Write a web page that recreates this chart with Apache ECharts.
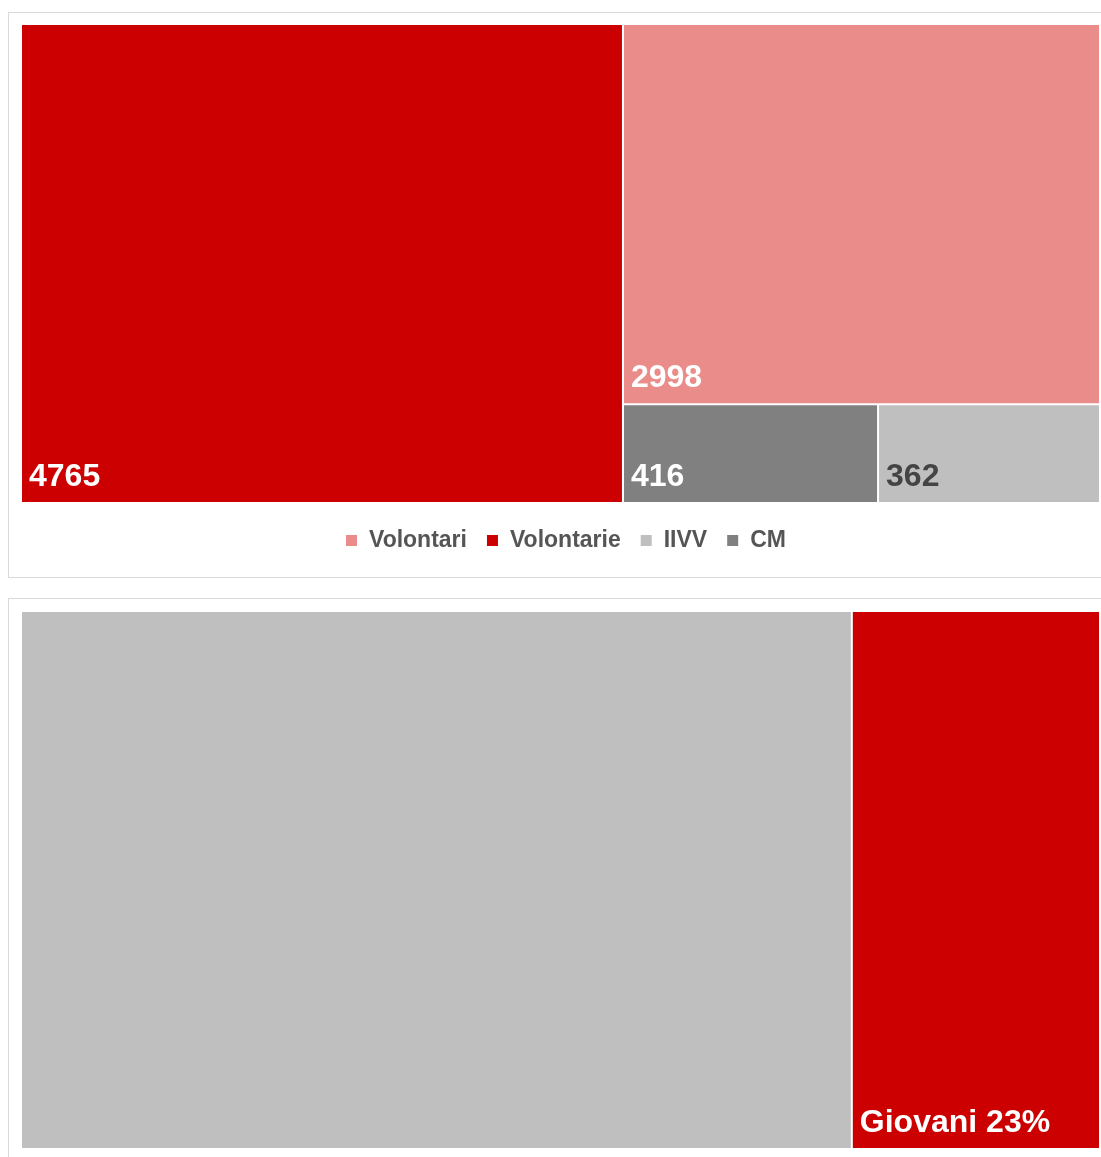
<!DOCTYPE html>
<html>
<head>
<meta charset="utf-8">
<script src="https://cdn.jsdelivr.net/npm/echarts@6/dist/echarts.min.js"></script>
<style>
  html, body { margin: 0; padding: 0; background: #fff; overflow: hidden; }
  body { width: 1101px; height: 1157px; position: relative; }
  .panel { position: absolute; left: 8px; width: 1120px; border: 1px solid #d9d9d9; box-sizing: border-box; }
  #top { top: 12px; height: 566px; }
  #bottom { top: 598px; height: 580px; }
</style>
</head>
<body>
<div class="panel" id="top"></div>
<div class="panel" id="bottom"></div>
<script>
// top chart: volunteers by group
const topNames = ["Volontarie", "Volontari", "CM", "IIVV"];
const topValues = [4765, 2998, 416, 362];
const legendNames = ["Volontari", "Volontarie", "IIVV", "CM"];

// bottom chart: share of young people (%)
const bottomNames = ["Altri", "Giovani"];
const bottomValues = [77, 23];

const colors = {
  Volontarie: "#cc0000",
  Volontari: "#e98c8a",
  CM: "#808080",
  IIVV: "#bfbfbf",
  Altri: "#bfbfbf",
  Giovani: "#cc0000",
};
const labelColors = { IIVV: "#444444" };

const font = "'Liberation Sans', Arial, sans-serif";

const labelBase = {
  show: true,
  position: "insideBottomLeft",
  distance: 4,
  offset: [-2, 0],
  color: "#fff",
  fontSize: 32,
  fontWeight: "bold",
  fontFamily: font,
};

const treemapBase = {
  type: "treemap",
  roam: false,
  nodeClick: false,
  silent: true,
  breadcrumb: { show: false },
  left: 13,
  width: 1077,
  itemStyle: { borderWidth: 0, gapWidth: 2, borderColor: "#fff" },
  emphasis: { disabled: true },
};

const topChart = echarts.init(document.getElementById("top"));
topChart.setOption({
  animation: false,
  legend: {
    data: legendNames,
    left: 332,
    top: 511,
    icon: "rect",
    itemWidth: 11,
    itemHeight: 11,
    itemGap: 20,
    selectedMode: false,
    textStyle: {
      color: "#555",
      fontSize: 23,
      fontWeight: "bold",
      fontFamily: font,
      padding: [0, 0, 0, 7],
    },
  },
  series: [
    Object.assign({}, treemapBase, {
      top: 12,
      height: 477,
      label: Object.assign({}, labelBase, { formatter: "{c}" }),
      data: topNames.map((n, i) => ({
        name: n,
        value: topValues[i],
        itemStyle: { color: colors[n] },
        label: { color: labelColors[n] || "#fff" },
      })),
    }),
    {
      type: "pie",
      silent: true,
      center: [-200, -200],
      radius: [0, 1],
      label: { show: false },
      data: legendNames.map((n) => ({ name: n, value: 1, itemStyle: { color: colors[n] } })),
    },
  ],
});

const bottomChart = echarts.init(document.getElementById("bottom"));
bottomChart.setOption({
  animation: false,
  series: [
    Object.assign({}, treemapBase, {
      top: 13,
      height: 536,
      label: Object.assign({}, labelBase, { formatter: "{b} {c}%" }),
      data: bottomNames.map((n, i) => ({
        name: n,
        value: bottomValues[i],
        itemStyle: { color: colors[n] },
        label: { show: n === "Giovani" },
      })),
    }),
  ],
});
</script>
</body>
</html>
